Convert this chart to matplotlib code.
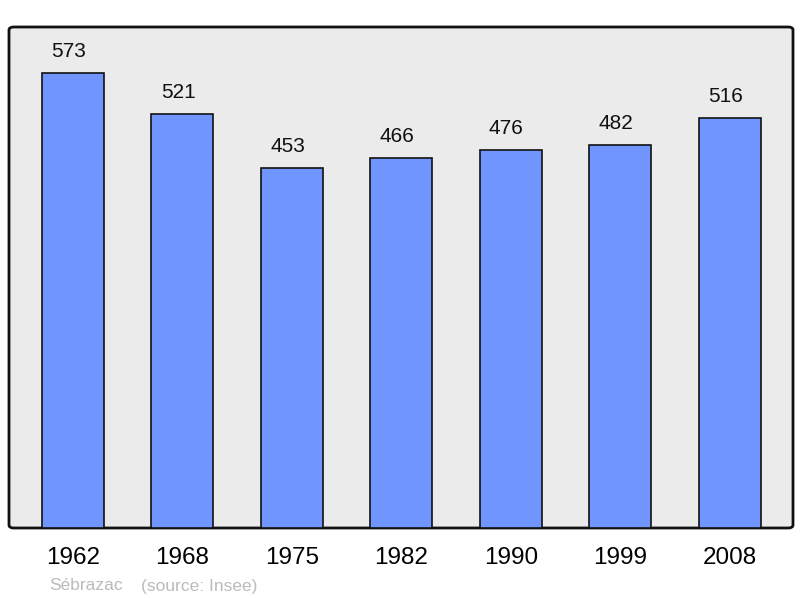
import matplotlib.pyplot as plt
from matplotlib.patches import FancyBboxPatch

years = ['1962', '1968', '1975', '1982', '1990', '1999', '2008']
population = [573, 521, 453, 466, 476, 482, 516]
place = 'Sébrazac'
source = '(source: Insee)'

plt.rcParams['font.family'] = ['Liberation Sans', 'DejaVu Sans']

fig = plt.figure(figsize=(8, 5.98), dpi=100)
ax = fig.add_axes([9 / 800, 1 - 528 / 598, 784 / 800, 501 / 598])
ax.set_xlim(-0.585, 6.58)
ax.set_ylim(0, 631)
ax.set_facecolor('none')
for s in ax.spines.values():
    s.set_visible(False)

frame = FancyBboxPatch((0, 0), 1, 1, boxstyle='round,pad=0,rounding_size=0.006',
                       transform=ax.transAxes, facecolor='#ebebeb',
                       edgecolor='#111111', linewidth=2, zorder=0, clip_on=False)
ax.add_patch(frame)

x = range(len(years))
ax.bar(x, population, width=0.567, color='#7095ff', edgecolor='#111111',
       linewidth=1.2, zorder=2)
for xi, v in zip(x, population):
    ax.text(xi - 0.04, v + 27, str(v), ha='center', va='center', fontsize=15,
            color='#111111')

ax.set_xticks(list(x))
ax.set_xticklabels(years, fontsize=17.5)
ax.tick_params(axis='x', length=0, pad=14)
ax.set_yticks([])

fig.text(49 / 800, 1 - 586 / 598, place, fontsize=12.5, color='#bbbbbb',
         ha='left', va='center')
fig.text(141 / 800, 1 - 586 / 598, source, fontsize=12.5, color='#bbbbbb',
         ha='left', va='center')

fig.savefig('out.png', dpi=100, facecolor='white')
